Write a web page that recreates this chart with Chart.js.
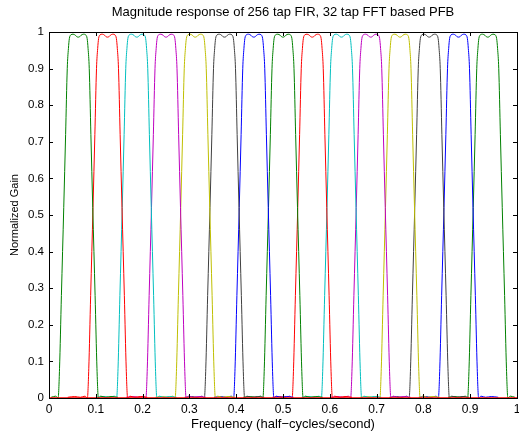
<!DOCTYPE html>
<html>
<head>
<meta charset="utf-8">
<script src="https://cdn.jsdelivr.net/npm/chart.js@4"></script>
<style>
  html, body { margin: 0; padding: 0; background: #fff; }
  #c { display: block; }
</style>
</head>
<body>
<canvas id="c" width="519" height="432"></canvas>
<script>
// channel centres (half-cycles/second) and MATLAB line colours
const centers = [0.0625, 0.125, 0.1875, 0.25, 0.3125, 0.375, 0.4375, 0.5,
                 0.5625, 0.625, 0.6875, 0.75, 0.8125, 0.875, 0.9375];
const bandColors = ['#008000', '#ff0000', '#00bfbf', '#bf00bf', '#bfbf00', '#404040', '#0000ff', '#008000',
                    '#ff0000', '#00bfbf', '#bf00bf', '#bfbf00', '#404040', '#0000ff', '#008000'];

// one channel's response: offset from centre -> gain
const shapeOffsets = [-0.085, -0.070, -0.058, -0.048, -0.043, -0.040, -0.036, -0.031, -0.027, -0.0235,
                      -0.021, -0.019, -0.016, -0.011, -0.006, -0.003, 0,
                      0.003, 0.006, 0.011, 0.016, 0.019, 0.021, 0.0235, 0.027,
                      0.031, 0.036, 0.040, 0.043, 0.048, 0.058, 0.070, 0.085];
const shapeGains = [0.002, 0.004, 0.002, 0.005, 0.0, 0.08, 0.28, 0.52, 0.72, 0.90,
                    0.955, 0.982, 0.992, 0.994, 0.991, 0.987, 0.986,
                    0.987, 0.991, 0.994, 0.992, 0.982, 0.955, 0.90, 0.72,
                    0.52, 0.28, 0.08, 0.0, 0.005, 0.002, 0.004, 0.002];

const xTicks = [0, 0.1, 0.2, 0.3, 0.4, 0.5, 0.6, 0.7, 0.8, 0.9, 1];
const yTicks = [0, 0.1, 0.2, 0.3, 0.4, 0.5, 0.6, 0.7, 0.8, 0.9, 1];
const baseline = [{ x: 0, y: 0 }, { x: 1, y: 0 }];

const FONT = "'Liberation Sans', Arial, Helvetica, sans-serif";

const datasets = [{
    data: baseline, borderColor: '#ff0000', borderWidth: 1.5, clip: 3
}];
centers.forEach((c, i) => {
    const pts = [];
    shapeOffsets.forEach((o, j) => {
        const x = c + o;
        if (x >= 0 && x <= 1) pts.push({ x: x, y: shapeGains[j] });
    });
    datasets.push({ data: pts, borderColor: bandColors[i], borderWidth: 1, clip: 2 });
});

// MATLAB style box with inward ticks on all four sides
const boxTicks = {
    id: 'boxTicks',
    afterDatasetsDraw(chart) {
        const { ctx, chartArea: a, scales } = chart;
        const len = 4;
        ctx.save();
        ctx.strokeStyle = '#000';
        ctx.lineWidth = 1;
        ctx.beginPath();
        xTicks.forEach(v => {
            const px = Math.round(scales.x.getPixelForValue(v)) + 0.5;
            ctx.moveTo(px, a.bottom); ctx.lineTo(px, a.bottom - len);
            ctx.moveTo(px, a.top); ctx.lineTo(px, a.top + len);
        });
        yTicks.forEach(v => {
            const py = Math.round(scales.y.getPixelForValue(v)) + 0.5;
            ctx.moveTo(a.left, py); ctx.lineTo(a.left + len, py);
            ctx.moveTo(a.right, py); ctx.lineTo(a.right - len, py);
        });
        ctx.stroke();
        ctx.strokeRect(Math.round(a.left) + 0.5, Math.round(a.top) + 0.5,
                       Math.round(a.right - a.left), Math.round(a.bottom - a.top));
        ctx.restore();
    }
};

new Chart(document.getElementById('c').getContext('2d'), {
    type: 'line',
    data: { datasets: datasets },
    options: {
        responsive: false,
        animation: false,
        parsing: false,
        layout: { padding: { left: 0, right: 2, top: 0, bottom: 0 } },
        elements: {
            point: { radius: 0 },
            line: { tension: 0.3, cubicInterpolationMode: 'monotone', fill: false }
        },
        plugins: {
            legend: { display: false },
            tooltip: { enabled: false },
            title: {
                display: true,
                fullSize: false,
                text: 'Magnitude response of 256 tap FIR, 32 tap FFT based PFB',
                color: '#000',
                font: { family: FONT, size: 13, weight: 'normal' },
                padding: { top: 5, bottom: 11.4 }
            }
        },
        scales: {
            x: {
                type: 'linear',
                min: 0, max: 1,
                afterBuildTicks: s => { s.ticks = xTicks.map(v => ({ value: v })); },
                afterFit: s => { s.height = 34; s.paddingRight = 0; s.paddingLeft = 0; },
                ticks: {
                    color: '#000',
                    font: { family: FONT, size: 12 },
                    padding: 4,
                    maxRotation: 0,
                    callback: v => String(v)
                },
                grid: { display: false, drawTicks: false },
                border: { display: false },
                title: {
                    display: true,
                    text: 'Frequency (half\u2212cycles/second)',
                    color: '#000',
                    font: { family: FONT, size: 13 },
                    padding: { top: 0, bottom: 0 }
                }
            },
            y: {
                type: 'linear',
                min: 0, max: 1,
                afterBuildTicks: s => { s.ticks = yTicks.map(v => ({ value: v })); },
                afterFit: s => { s.width = 49; s.paddingTop = 0; s.paddingBottom = 0; },
                ticks: {
                    color: '#000',
                    font: { family: FONT, size: 11.5 },
                    padding: 5,
                    callback: v => String(v)
                },
                grid: { display: false, drawTicks: false },
                border: { display: false },
                title: {
                    display: true,
                    text: 'Normalized Gain',
                    color: '#000',
                    font: { family: FONT, size: 11 },
                    padding: { top: 8, bottom: 0 }
                }
            }
        }
    },
    plugins: [boxTicks]
});
</script>
</body>
</html>
